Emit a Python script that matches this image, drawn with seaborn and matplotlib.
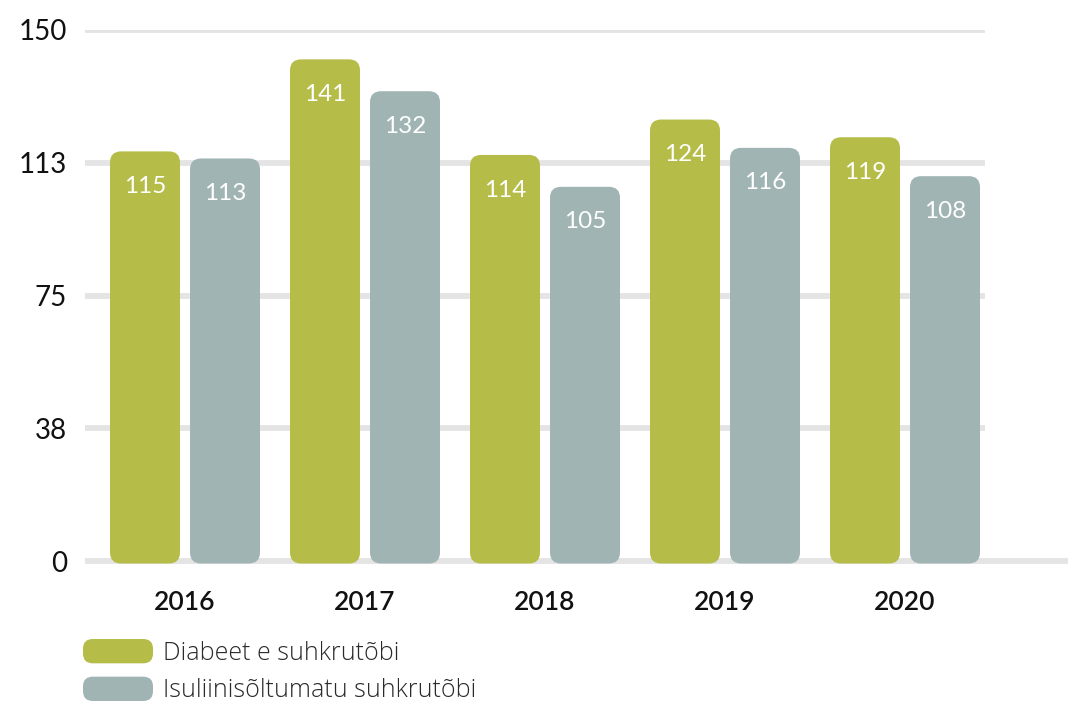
import matplotlib
matplotlib.use("Agg")
import matplotlib.pyplot as plt
from matplotlib.patches import FancyBboxPatch
from matplotlib.legend_handler import HandlerPatch
import seaborn as sns
import pandas as pd

years = ["2016", "2017", "2018", "2019", "2020"]
series_names = ["Diabeet e suhkrutõbi", "Isuliinisõltumatu suhkrutõbi"]
diabeet = [115, 141, 114, 124, 119]
isuliin = [113, 132, 105, 116, 108]
ytick_values = [0, 37.5, 75, 112.5, 150]
ytick_labels = ["0", "38", "75", "113", "150"]

GREEN = "#b5bd48"
GRAY = "#a0b4b3"
GRID = "#e4e4e4"
FONT = "Lato"
LEG_FONT = "Open Sans"

df = pd.DataFrame({
    "year": years * 2,
    "value": diabeet + isuliin,
    "series": [series_names[0]] * len(years) + [series_names[1]] * len(years),
})

sns.set_theme(style="white")
plt.rcParams["font.family"] = [FONT, "DejaVu Sans"]

W, H = 1068, 707
fig = plt.figure(figsize=(W / 100, H / 100), dpi=100)
ax_left, ax_right = 85, 985
ax_top, ax_bottom = 30, 561
ax = fig.add_axes([ax_left / W, (H - ax_bottom) / H, (ax_right - ax_left) / W, (ax_bottom - ax_top) / H])

sns.barplot(data=df, x="year", y="value", hue="series", palette=[GREEN, GRAY],
            width=160 / 180, gap=0.125, saturation=1, legend=False, ax=ax, zorder=3)

ax.set_xlim(-100 / 180, 800 / 180)
ax.set_ylim(0, 150)

px_x = 5.0 / (ax_right - ax_left)
px_y = 150.0 / (ax_bottom - ax_top)
radius_px = 11
aspect = px_y / px_x

bars = list(ax.patches)
for p in bars:
    x, y0 = p.get_x(), p.get_y()
    w, h = p.get_width(), p.get_height()
    fc = p.get_facecolor()
    p.remove()
    ext = 2.5 * px_y
    fb = FancyBboxPatch((x, y0 - ext), w, h + 2 * ext,
                        boxstyle=f"round,pad=0,rounding_size={radius_px * px_x}",
                        mutation_aspect=aspect, facecolor=fc, edgecolor="none",
                        zorder=3, clip_on=False)
    ax.add_patch(fb)
    ax.annotate(f"{int(round(h))}", (x + w / 2, y0 + h), xytext=(0, -23.5),
                textcoords="offset points", ha="center", va="center",
                color="white", fontsize=17.5, zorder=4)

for v in ytick_values[1:]:
    ax.axhline(v, color=GRID, lw=4.2, zorder=1, solid_capstyle="butt")
ax.plot([-100 / 180, 1000 / 180], [0, 0], color=GRID, lw=4.2, zorder=1,
        clip_on=False, solid_capstyle="butt")

for s in ax.spines.values():
    s.set_visible(False)
ax.set_xlabel("")
ax.set_ylabel("")
ax.set_yticks(ytick_values)
ax.set_yticklabels(ytick_labels, fontsize=20, color="#111111")
ax.tick_params(axis="y", length=0, pad=13)
ax.tick_params(axis="x", length=0, pad=21)
for lab in ax.get_xticklabels():
    lab.set_fontsize(19)
    lab.set_fontweight("semibold")
    lab.set_color("#111111")


class RoundHandler(HandlerPatch):
    def create_artists(self, legend, orig_handle, xdescent, ydescent, width, height, fontsize, trans):
        p = FancyBboxPatch((-xdescent, -ydescent), width, height,
                           boxstyle="round,pad=0,rounding_size=7",
                           facecolor=orig_handle.get_facecolor(), edgecolor="none",
                           transform=trans)
        return [p]


handles = [FancyBboxPatch((0, 0), 1, 1, facecolor=GREEN), FancyBboxPatch((0, 0), 1, 1, facecolor=GRAY)]
fs = 18
fs_px = fs * 100 / 72
leg = fig.legend(handles, series_names, loc="upper left",
                 bbox_to_anchor=(83 / W, 1 - 639 / H), frameon=False,
                 borderpad=0, borderaxespad=0,
                 handlelength=70 / fs_px, handleheight=28 / fs_px,
                 handletextpad=10 / fs_px, labelspacing=11 / fs_px,
                 handler_map={FancyBboxPatch: RoundHandler()},
                 prop={"family": [LEG_FONT, "DejaVu Sans"], "weight": "light", "size": fs})
for t in leg.get_texts():
    t.set_color("#2a2a2a")

fig.savefig("out.png", dpi=100)
